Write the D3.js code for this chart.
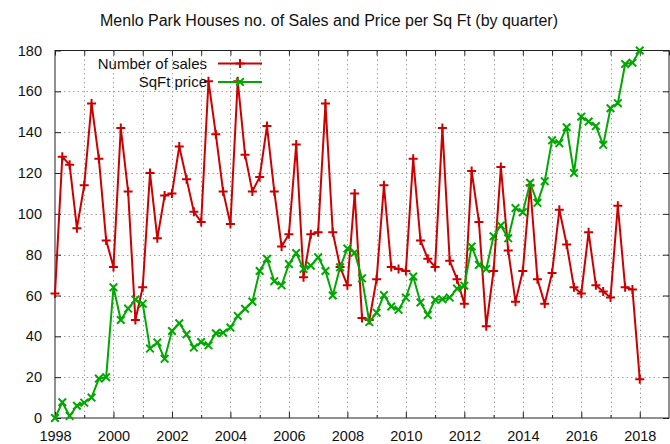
<!DOCTYPE html>
<html lang="en">
<head>
  <meta charset="UTF-8">
  <title>Menlo Park Houses</title>
  <script src="https://d3js.org/d3.v7.min.js"></script>
  <style>
    body { margin: 0; background: #fff; }
    svg { display: block; font-family: "Liberation Sans", Arial, sans-serif; }
  </style>
</head>
<body>
  <svg id="chart" width="670" height="444"></svg>
  <script>
    // quarterly data, first quarter of 1998 through first quarter of 2018
    const startYear = 1998;
    const sales = [
      61, 128, 124, 93,   114, 154, 127, 87,   74, 142, 111, 48,   64, 120, 88, 109,
      110, 133, 117, 101, 96, 165, 139, 111,   95, 165, 129, 111,  118, 143, 111, 84,
      90, 134, 69, 90,    91, 154, 91, 74,     65, 110, 49, 48,    68, 114, 74, 73,
      72, 127, 87, 78,    74, 142, 77, 68,     56, 121, 96, 45,    72, 123, 82, 57,
      72, 114, 68, 56,    71, 102, 85, 64,     61, 91, 65, 62,     59, 104, 64, 63,
      19
    ];
    const sqftPrice = [
      0, 7.7, 1, 6,        7.5, 10, 19.3, 20,      64, 48, 53.6, 58,      56, 34, 37, 29,
      42.6, 46.4, 41, 34.5, 37.2, 35.6, 41.5, 41.8, 44.3, 50, 53.5, 57,   72, 78, 67, 65,
      75.4, 80.8, 73, 74.6, 78.7, 72, 60, 73.8,     83, 81, 68.4, 47,      51.6, 60.2, 54.6, 53,
      59, 69.3, 56.6, 50.5, 57.9, 58.2, 59, 63.4,   64.8, 84, 75, 73,      89, 94.3, 88, 102.8,
      100.8, 115.2, 105.4, 116, 136, 134.6, 142.4, 120, 147.6, 145.2, 143, 133.8, 151.7, 154.2, 173.4, 174,
      180
    ];
    const xTickLabels = [1998, 2000, 2002, 2004, 2006, 2008, 2010, 2012, 2014, 2016, 2018];
    const yTicks = [0, 20, 40, 60, 80, 100, 120, 140, 160, 180];
    const seriesNames = ["Number of sales", "SqFt price"];
    const seriesColors = ["#cc0000", "#00a800"];

    const svg = d3.select("#chart");
    const plotL = 55, plotR = 669, plotT = 50.5, plotB = 418;

    const x = d3.scaleLinear().domain([1998, 2019]).range([plotL, plotR]);
    const y = d3.scaleLinear().domain([0, 180]).range([plotB, plotT]);

    // grid
    const years = d3.range(1999, 2019);
    const grid = svg.append("g").attr("stroke", "#a0a0a0").attr("stroke-dasharray", "1.5,3").attr("stroke-width", 1);
    grid.selectAll(".gx").data(years).join("line")
      .attr("x1", d => Math.round(x(d)) + 0.5).attr("x2", d => Math.round(x(d)) + 0.5)
      .attr("y1", plotT).attr("y2", plotB);
    grid.selectAll(".gy").data(yTicks.slice(1, -1)).join("line")
      .attr("x1", plotL).attr("x2", plotR)
      .attr("y1", d => Math.round(y(d)) + 0.5).attr("y2", d => Math.round(y(d)) + 0.5);

    // axes (gnuplot style: ticks inward on all sides)
    const axisColor = "#222";
    const xAxisB = d3.axisBottom(x).tickValues(xTickLabels).tickFormat(d3.format("d")).tickSizeInner(-6).tickSizeOuter(0).tickPadding(13);
    const xAxisT = d3.axisTop(x).tickValues(d3.range(1998, 2020)).tickFormat("").tickSizeInner(-5).tickSizeOuter(0);
    const xMinorB = d3.axisBottom(x).tickValues(d3.range(1999, 2019, 2)).tickFormat("").tickSizeInner(-3).tickSizeOuter(0);
    const yAxisL = d3.axisLeft(y).tickValues(yTicks).tickSizeInner(-6).tickSizeOuter(0).tickPadding(13);
    const yAxisR = d3.axisRight(y).tickValues(yTicks).tickFormat("").tickSizeInner(-6).tickSizeOuter(0);

    function styleAxis(g) {
      g.select(".domain").remove();
      g.selectAll("line").attr("stroke", axisColor);
      g.selectAll("text").attr("fill", "#111").style("font-size", "14.5px");
    }
    svg.append("g").attr("transform", `translate(0,${plotB})`).call(xAxisB).call(styleAxis);
    svg.append("g").attr("transform", `translate(0,${plotB})`).call(xMinorB).call(styleAxis);
    svg.append("g").attr("transform", `translate(0,${plotT})`).call(xAxisT).call(styleAxis);
    svg.append("g").attr("transform", `translate(${plotL},0)`).call(yAxisL).call(styleAxis);
    svg.append("g").attr("transform", `translate(${plotR},0)`).call(yAxisR).call(styleAxis);

    svg.append("rect")
      .attr("x", plotL).attr("y", plotT).attr("width", plotR - plotL).attr("height", plotB - plotT)
      .attr("fill", "none").attr("stroke", axisColor).attr("stroke-width", 1);

    // title
    svg.append("text").attr("x", 329).attr("y", 25.5).attr("text-anchor", "middle")
      .attr("fill", "#111").style("font-size", "16px")
      .text("Menlo Park Houses no. of Sales and Price per Sq Ft (by quarter)");

    const markers = [
      "M-4.5,0H4.5M0,-4.5V4.5",
      "M-3.8,-3.8L3.8,3.8M-3.8,3.8L3.8,-3.8"
    ];

    const line = d3.line().x((d, i) => x(startYear + i / 4)).y(d => y(d));

    [sales, sqftPrice].forEach((values, k) => {
      const g = svg.append("g");
      g.append("path").datum(values)
        .attr("d", line).attr("fill", "none")
        .attr("stroke", seriesColors[k]).attr("stroke-width", 2).attr("stroke-linejoin", "round");
      g.selectAll("path.m").data(values).join("path")
        .attr("class", "m")
        .attr("transform", (d, i) => `translate(${x(startYear + i / 4)},${y(d)})`)
        .attr("d", markers[k]).attr("stroke", seriesColors[k]).attr("stroke-width", 2).attr("fill", "none");
    });

    // legend
    const legend = svg.append("g");
    seriesNames.forEach((name, k) => {
      const ly = 63.5 + k * 18.5;
      legend.append("text").attr("x", 207).attr("y", ly + 5).attr("text-anchor", "end")
        .attr("fill", "#111").style("font-size", "15px").text(name);
      legend.append("line").attr("x1", 218).attr("x2", 262).attr("y1", ly).attr("y2", ly)
        .attr("stroke", seriesColors[k]).attr("stroke-width", 2);
      legend.append("path").attr("transform", `translate(240,${ly})`).attr("d", markers[k])
        .attr("stroke", seriesColors[k]).attr("stroke-width", 2).attr("fill", "none");
    });
  </script>
</body>
</html>
